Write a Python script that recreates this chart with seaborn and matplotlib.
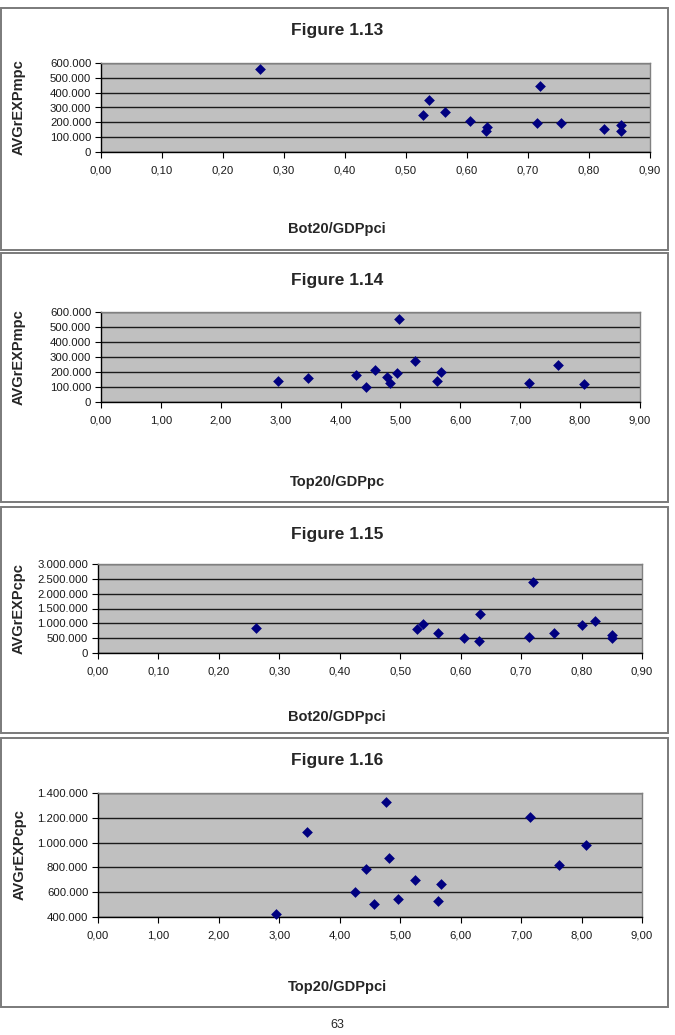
import matplotlib
matplotlib.use("Agg")
import matplotlib.pyplot as plt
from matplotlib.patches import Rectangle
from matplotlib.ticker import FuncFormatter, MultipleLocator
import seaborn as sns
import pandas as pd

sns.set_theme(style="white")
plt.rcParams['font.family'] = ['Liberation Sans', 'DejaVu Sans']

# ---- data ----
f13_x = [0.261, 0.528, 0.537, 0.564, 0.605, 0.631, 0.633, 0.714, 0.720, 0.754, 0.824, 0.853, 0.853]
f13_y = [559000, 249000, 349000, 272000, 208000, 143000, 170000, 195000, 448000, 197000, 156000, 183000, 140000]

f14_x = [2.95, 3.46, 4.26, 4.43, 4.57, 4.77, 4.82, 4.95, 4.97, 5.25, 5.61, 5.67, 7.15, 7.63, 8.06]
f14_y = [142000, 160000, 182000, 102000, 211000, 167000, 124000, 196000, 556000, 271000, 140000, 200000, 124000, 249000, 120000]

f15_x = [0.261, 0.527, 0.537, 0.563, 0.605, 0.631, 0.632, 0.713, 0.719, 0.754, 0.801, 0.823, 0.851, 0.851]
f15_y = [845000, 810000, 980000, 690000, 495000, 420000, 1330000, 550000, 2380000, 670000, 935000, 1085000, 615000, 520000]

f16_x = [2.95, 3.45, 4.26, 4.43, 4.57, 4.77, 4.82, 4.96, 5.25, 5.62, 5.68, 7.15, 7.63, 8.07]
f16_y = [427000, 1086000, 605000, 786000, 505000, 1330000, 876000, 543000, 700000, 527000, 665000, 1205000, 816000, 978000]

titles = ["Figure 1.13", "Figure 1.14", "Figure 1.15", "Figure 1.16"]
xlabels = ["Bot20/GDPpci", "Top20/GDPpc", "Bot20/GDPpci", "Top20/GDPpci"]
ylabels = ["AVGrEXPmpc", "AVGrEXPmpc", "AVGrEXPcpc", "AVGrEXPcpc"]
page_number = "63"

W, H = 675, 1035
fig = plt.figure(figsize=(W / 100, H / 100), dpi=100)

def fx(px):
    return px / W

def fy(py):
    return 1 - py / H

# panel geometry in pixels
boxes = [(1, 8, 668, 250), (1, 253, 668, 502), (1, 507, 668, 733), (1, 738, 668, 1007)]
plots = [(101, 63, 650, 152), (101, 312, 640, 402), (98, 564, 642, 653), (98, 793, 642, 917)]
title_y = [30, 280, 534, 761]
xlabel_y = [229, 482, 717, 987]
ylabel_x = [19, 19, 19, 20]

datasets = [(f13_x, f13_y), (f14_x, f14_y), (f15_x, f15_y), (f16_x, f16_y)]
xlims = [(0, 0.9), (0, 9), (0, 0.9), (0, 9)]
xsteps = [0.1, 1, 0.1, 1]
ylims = [(0, 600000), (0, 600000), (0, 3000000), (400000, 1400000)]
ysteps = [100000, 100000, 500000, 200000]

def yfmt(v, pos):
    return f"{int(round(v)):,}".replace(",", ".")

def xfmt(v, pos):
    return f"{v:.2f}".replace(".", ",")

for i in range(4):
    bx0, by0, bx1, by1 = boxes[i]
    fig.patches.append(Rectangle((fx(bx0), fy(by1)), fx(bx1) - fx(bx0), fy(by0) - fy(by1),
                                 transform=fig.transFigure, fill=False,
                                 edgecolor="#7a7a7a", linewidth=1.4, zorder=0))
    px0, py0, px1, py1 = plots[i]
    ax = fig.add_axes([fx(px0), fy(py1), fx(px1) - fx(px0), fy(py0) - fy(py1)])
    ax.set_facecolor("#c0c0c0")
    df = pd.DataFrame({"x": datasets[i][0], "y": datasets[i][1]})
    sns.scatterplot(data=df, x="x", y="y", ax=ax, marker="D", s=30,
                    color="#000080", edgecolor="#000080", linewidth=0, zorder=3, clip_on=False)
    ax.set_xlim(*xlims[i])
    ax.set_ylim(*ylims[i])
    ax.xaxis.set_major_locator(MultipleLocator(xsteps[i]))
    ax.yaxis.set_major_locator(MultipleLocator(ysteps[i]))
    ax.xaxis.set_major_formatter(FuncFormatter(xfmt))
    ax.yaxis.set_major_formatter(FuncFormatter(yfmt))
    ax.grid(axis="y", color="#1a1a1a", linewidth=1.0)
    ax.grid(axis="x", visible=False)
    ax.set_axisbelow(True)
    ax.set_xlabel("")
    ax.set_ylabel("")
    for s in ["top", "right"]:
        ax.spines[s].set_color("#808080")
        ax.spines[s].set_linewidth(1.0)
    for s in ["left", "bottom"]:
        ax.spines[s].set_color("#000000")
        ax.spines[s].set_linewidth(1.0)
    ax.tick_params(axis="both", which="major", direction="out", length=4, width=0.8,
                   color="#000000", labelsize=8.2, labelcolor="#1a1a1a", pad=3,
                   left=True, bottom=True)
    ax.tick_params(axis="x", pad=6)
    fig.text(fx(337), fy(title_y[i]), titles[i],
             ha="center", va="center", fontsize=12.5, fontweight="bold")
    fig.text(fx(337), fy(xlabel_y[i]), xlabels[i], ha="center", va="center",
             fontsize=10.5, fontweight="bold")
    fig.text(fx(ylabel_x[i]), fy(0.5 * (py0 + py1)), ylabels[i], ha="center", va="center",
             rotation=90, fontsize=10.5, fontweight="bold")

fig.text(fx(337), fy(1025), page_number, ha="center", va="center", fontsize=9)

fig.savefig("out.png", dpi=100, facecolor="white")
